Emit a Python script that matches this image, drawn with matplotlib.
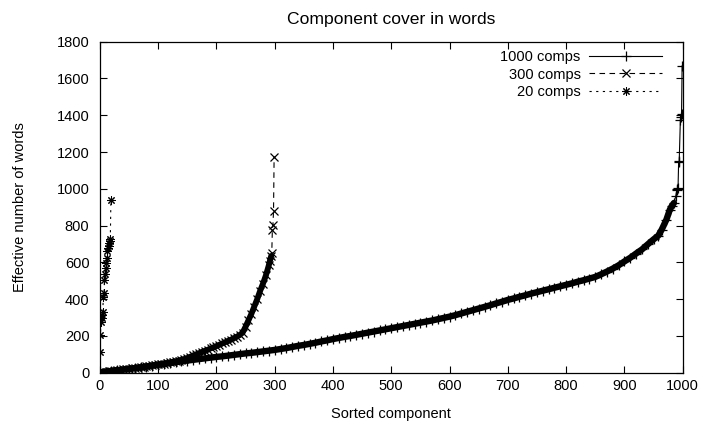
import numpy as np
import matplotlib.pyplot as plt

plt.rcParams['font.family'] = ['Liberation Sans', 'DejaVu Sans']
plt.rcParams['font.size'] = 10.5

# 1000 components (sorted), read every 10 then denser at the tail
idx_1000 = list(range(0, 960, 10)) + [958, 964, 972, 978, 981, 985, 988, 990, 991, 992,
                                      993, 994, 996, 997, 998, 999]
val_1000 = [2, 6, 10, 14, 17, 21, 25, 29, 33, 38,
            43, 47, 52, 57, 62, 66, 70, 74, 78, 82,
            86, 89, 93, 97, 101, 105, 108, 112, 116, 120,
            124, 129, 134, 140, 146, 151, 157, 163, 170, 176,
            183, 189, 195, 200, 206, 212, 218, 224, 230, 236,
            242, 248, 254, 260, 266, 272, 278, 284, 291, 298,
            305, 313, 322, 331, 340, 349, 358, 367, 377, 386,
            396, 404, 413, 421, 430, 438, 446, 454, 462, 470,
            478, 486, 495, 503, 512, 521, 535, 550, 566, 584,
            605, 625, 648, 670, 698, 725,
            745, 778, 832, 887, 905, 923, 959, 996, 1000, 1005,
            1144, 1150, 1375, 1390, 1405, 1668]

# 300 components (sorted), read every 5 then the last points
idx_300 = list(range(0, 295, 5)) + [292, 294, 295, 296, 297, 298, 299]
val_300 = [3, 5, 6, 8, 10, 12, 14, 16, 18, 20,
           22, 24, 26, 28, 30, 33, 35, 37, 40, 42,
           45, 47, 50, 53, 56, 59, 62, 66, 70, 75,
           80, 87, 94, 100, 106, 113, 119, 125, 132, 138,
           145, 152, 159, 166, 173, 180, 188, 196, 205, 218,
           250, 285, 320, 360, 400, 445, 485, 530, 585,
           610, 635, 650, 778, 805, 877, 1175]

# 20 components (sorted)
idx_20 = list(range(20))
val_20 = [115, 205, 275, 300, 315, 330, 410, 435, 505, 535,
          570, 598, 625, 660, 680, 690, 705, 715, 728, 940]

order = np.argsort(idx_1000, kind='stable')
x1 = np.array(idx_1000)[order]
y1 = np.array(val_1000)[order]
order = np.argsort(idx_300, kind='stable')
x3 = np.array(idx_300)[order]
y3 = np.array(val_300)[order]

fig = plt.figure(figsize=(7.06, 4.25), dpi=100)
ax = fig.add_axes([0.1414, 0.123, 0.8256, 0.779])

# thick underlay to mimic the very dense point clouds
m = x1 <= 985
ax.plot(x1[m], y1[m], color='black', lw=4.6, solid_capstyle='round')
ax.plot(x1, y1, color='black', lw=0.8, marker='+', ms=7.5, mew=0.9, label='1000 comps')

m = x3 <= 294
ax.plot(x3[m], y3[m], color='black', lw=4.2, solid_capstyle='round')
ax.plot(x3, y3, color='black', lw=0.8, dashes=(5, 4), marker='x', ms=5.5, mew=0.9,
        label='300 comps')

ax.plot(idx_20, val_20, color='black', lw=0.8, dashes=(2, 4), marker=(8, 2, 0), ms=6,
        mew=0.75, label='20 comps')

ax.set_xlim(0, 1000)
ax.set_ylim(0, 1800)
ax.set_xticks(range(0, 1001, 100))
ax.set_yticks(range(0, 1801, 200))
ax.tick_params(direction='in', length=5, width=0.8, top=True, right=True)
ax.tick_params(axis='x', pad=4.5)
ax.tick_params(axis='y', pad=7.5)
for s in ax.spines.values():
    s.set_linewidth(0.9)

ax.set_title("Component cover in words", pad=13)
ax.set_xlabel("Sorted component", labelpad=10)
ax.set_ylabel("Effective number of words", labelpad=21)

ax.legend(loc='upper right', bbox_to_anchor=(0.965, 0.975), frameon=False,
          markerfirst=False, handlelength=5, numpoints=1, borderpad=0,
          handletextpad=0.6, labelspacing=0.25, borderaxespad=0)

fig.savefig("out.png", dpi=100)
